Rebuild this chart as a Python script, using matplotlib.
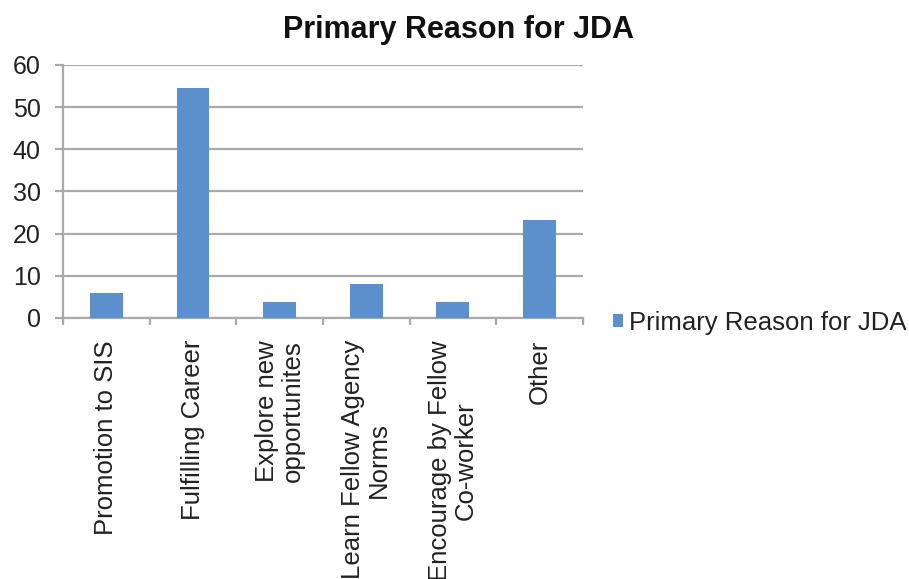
import numpy as np
import matplotlib
matplotlib.use('Agg')
from matplotlib import pyplot as plt

# data
categories = ['Promotion to SIS', 'Fulfilling Career', 'Explore new\nopportunites',
              'Learn Fellow Agency\nNorms', 'Encourage by Fellow\nCo-worker', 'Other']
values = [6, 54.5, 3.7, 8.1, 3.7, 23.3]
yticks = [0, 10, 20, 30, 40, 50, 60]
series_name = 'Primary Reason for JDA'

plt.rcParams['font.family'] = ['Liberation Sans', 'DejaVu Sans']

fig = plt.figure(figsize=(9.09, 5.79), dpi=100)
ax = fig.add_axes([0.0693, 0.451, 0.572, 0.437])

x = np.arange(len(categories))
bars = ax.bar(x, values, width=0.38, color='#5b90cc', label=series_name, zorder=3)

ax.set_xlim(-0.5, len(categories) - 0.5)
ax.set_ylim(0, 60)
ax.set_yticks(yticks)
ax.yaxis.grid(True, color='#aaaaaa', linewidth=1.6, zorder=0)
ax.tick_params(axis='y', labelsize=18, length=6, width=1.6, color='#aaaaaa', pad=10,
               labelcolor='#222222')

# category ticks sit between bars
ax.set_xticks(np.arange(-0.5, len(categories)), minor=True)
ax.set_xticks(x)
ax.set_xticklabels(categories, rotation=90, fontsize=18.5, ha='center', va='top',
                   multialignment='center', linespacing=1.1, color='#222222')
ax.tick_params(axis='x', which='major', length=0, pad=16)
ax.tick_params(axis='x', which='minor', length=5, width=1.6, color='#aaaaaa')

for s in ['top', 'right']:
    ax.spines[s].set_visible(False)
for s in ['left', 'bottom']:
    ax.spines[s].set_color('#aaaaaa')
    ax.spines[s].set_linewidth(1.6)

fig.text(0.504, 0.948, series_name, fontsize=22, fontweight='bold', ha='center', va='center',
         color='#111111')

fig.legend(handles=[bars], labels=[series_name], loc='center left',
           bbox_to_anchor=(0.66, 0.443), frameon=False, fontsize=18.5,
           handlelength=0.4, handleheight=0.4, handletextpad=0.25, borderpad=0.0,
           labelcolor='#222222')

fig.savefig('out.png', dpi=100)
